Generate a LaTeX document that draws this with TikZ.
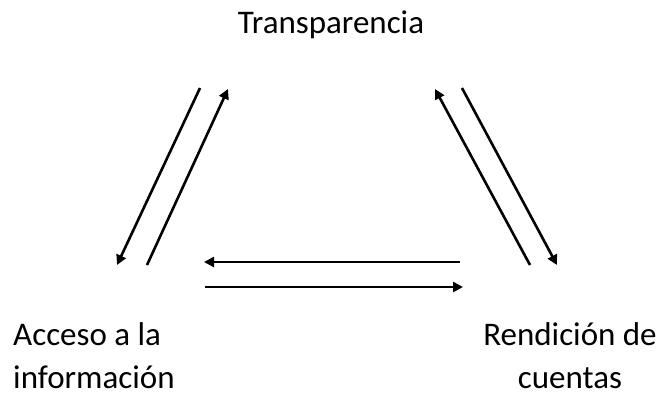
\documentclass[tikz,border=0pt]{standalone}
\usepackage{fontspec}
\setmainfont{Carlito}
\usetikzlibrary{positioning}
\usetikzlibrary{arrows.meta}

\tikzset{
  label/.style={font=\fontsize{33}{43}\selectfont, inner sep=0pt},
  flow/.style={line width=2.6pt, -{Triangle[length=10pt, width=10pt]}},
}

\begin{document}
\begin{tikzpicture}[x=1pt, y=-1pt]
  \useasboundingbox (0,0) rectangle (663,397);

  \node[label, anchor=base] (transp) at (331,33) {Transparencia};
  \node[label, anchor=base west, align=left] (acceso) at (13,388) {Acceso a la\\información};
  \node[label, anchor=base, align=center] (rendicion) at (570,388) {Rendición de\\cuentas};

  % end points of the arrows
  \coordinate (ta1) at (200,88);
  \coordinate (ac1) at (117,265);
  \coordinate (ac2) at (147,265);
  \coordinate (ta2) at (228,89);
  \coordinate (re1) at (530,265);
  \coordinate (tr1) at (435,89);
  \coordinate (tr2) at (462,88);
  \coordinate (re2) at (557,265);
  \coordinate (rb1) at (460,262);
  \coordinate (ab1) at (204,262);
  \coordinate (ab2) at (205,287);
  \coordinate (rb2) at (463,287);

  \draw[flow] (ta1) -- (ac1);
  \draw[flow] (ac2) -- (ta2);
  \draw[flow] (re1) -- (tr1);
  \draw[flow] (tr2) -- (re2);
  \draw[flow] (rb1) -- (ab1);
  \draw[flow] (ab2) -- (rb2);
\end{tikzpicture}
\end{document}
